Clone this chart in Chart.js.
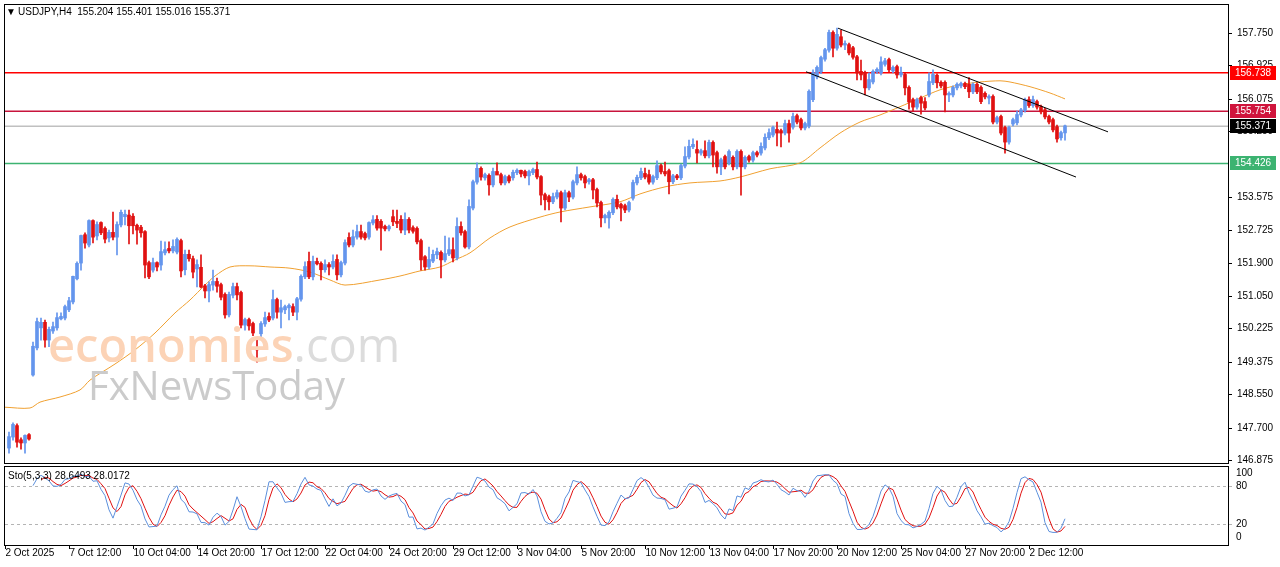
<!DOCTYPE html><html><head><meta charset="utf-8">
<script src="https://cdn.jsdelivr.net/npm/chart.js@4"></script>
<style>html,body{margin:0;padding:0;background:#fff;overflow:hidden}
#m{position:absolute;left:0;top:0;width:1280px;height:466px}
#s{position:absolute;left:0;top:466px;width:1280px;height:101px}
</style></head><body><div id="m"><canvas id="cm"></canvas></div><div id="s"><canvas id="cs"></canvas></div>
<script>
const openV=[147.18,147.46,147.74,147.38,147.31,147.51,149.04,149.73,150.24,150.37,149.93,150.16,150.24,150.47,150.49,150.70,150.90,151.49,151.89,152.60,152.35,152.96,152.58,152.91,152.76,152.53,152.66,152.55,152.86,153.07,153.10,153.07,152.84,152.79,152.68,151.89,151.71,151.89,151.84,152.15,152.25,152.20,152.17,152.45,151.72,152.10,151.99,151.74,151.77,151.30,151.18,151.33,151.41,151.33,151.08,150.57,151.07,151.28,151.13,150.31,150.44,150.34,149.70,150.09,150.34,150.52,150.49,150.95,150.64,150.70,150.75,150.77,150.64,150.97,151.54,151.92,151.54,151.92,151.87,151.72,151.84,151.79,151.97,151.59,151.89,152.53,152.35,152.55,152.68,152.63,152.55,152.91,152.99,152.94,152.81,152.76,153.06,152.94,152.99,152.73,152.99,152.78,152.76,152.45,152.04,151.79,151.94,152.10,152.15,151.97,152.12,152.22,152.02,152.81,152.68,152.30,153.29,153.95,154.29,154.06,154.11,153.88,154.21,154.13,153.93,154.08,154.06,154.19,154.24,154.21,154.11,154.19,154.26,154.08,153.62,153.57,153.45,153.57,153.67,153.29,153.67,153.57,153.93,154.13,154.08,153.96,154.00,153.75,153.42,153.04,153.04,153.17,153.50,153.37,153.34,153.24,153.54,153.93,154.06,154.16,154.13,153.95,154.06,154.36,154.21,154.23,153.96,154.10,154.06,154.36,154.59,154.85,154.77,154.69,154.74,154.62,154.95,154.69,154.34,154.59,154.44,154.57,154.34,154.72,154.34,154.59,154.51,154.69,154.69,154.82,155.08,155.15,155.28,155.25,155.20,155.43,155.35,155.63,155.53,155.33,155.38,156.05,156.63,156.76,157.08,157.31,157.75,157.36,157.64,157.44,157.44,157.36,157.13,156.76,156.73,156.35,156.50,156.76,156.73,156.95,157.06,156.78,156.88,156.68,156.68,156.35,156.04,155.86,156.09,155.99,156.17,156.48,156.66,156.48,156.48,156.17,156.17,156.35,156.40,156.45,156.43,156.25,156.43,156.35,156.20,156.09,156.12,155.48,155.61,155.33,154.97,155.43,155.46,155.66,155.78,156.04,155.90,155.99,155.86,155.78,155.61,155.53,155.35,155.08,155.204];
const highV=[147.59,147.82,147.80,147.44,147.52,147.55,149.88,150.49,150.49,150.44,150.26,150.39,150.62,150.62,150.82,151.02,151.56,151.92,152.60,152.66,152.99,152.99,152.94,152.94,152.81,152.73,153.19,152.94,153.24,153.24,153.24,153.15,152.88,152.85,152.72,151.94,152.02,151.92,152.45,152.43,152.43,152.48,152.53,152.50,152.22,152.22,152.07,151.97,152.10,151.35,151.41,151.71,151.51,151.38,151.13,151.15,151.38,151.38,151.18,150.49,150.49,150.39,149.95,150.40,150.64,150.62,151.20,151.00,150.95,150.82,150.85,150.85,151.02,151.59,151.92,152.17,152.07,152.02,151.92,151.97,151.90,152.10,152.10,151.94,152.48,152.66,152.73,152.86,152.86,152.68,152.94,153.10,153.10,153.00,152.86,152.86,153.24,153.24,153.10,153.17,153.05,152.84,152.81,152.50,152.08,152.30,152.22,152.27,152.20,152.58,152.53,152.53,153.04,152.94,152.73,153.50,154.00,154.44,154.34,154.18,154.16,154.31,154.44,154.18,154.13,154.13,154.26,154.29,154.26,154.26,154.26,154.31,154.46,154.12,153.67,153.62,153.67,153.75,153.72,153.75,153.72,154.00,154.34,154.18,154.13,154.05,154.05,153.80,153.47,153.14,153.22,153.55,153.62,153.42,153.39,153.47,154.00,154.13,154.31,154.31,154.26,154.13,154.49,154.41,154.46,154.28,154.15,154.15,154.41,154.85,155.02,155.05,155.00,154.79,155.00,155.02,155.00,154.74,154.56,154.64,154.77,154.62,154.77,154.77,154.62,154.64,154.74,154.74,154.95,155.18,155.31,155.38,155.48,155.30,155.53,155.53,155.71,155.68,155.58,155.48,156.30,156.81,156.91,157.16,157.36,157.82,157.80,157.87,157.82,157.55,157.49,157.41,157.18,157.06,156.78,156.73,156.81,156.86,157.14,157.10,157.11,156.91,156.93,156.88,156.73,156.40,156.09,156.09,156.14,156.10,156.73,156.81,156.71,156.53,156.53,156.25,156.40,156.48,156.50,156.50,156.61,156.48,156.48,156.40,156.25,156.17,156.17,155.63,155.66,155.38,155.38,155.58,155.76,155.83,156.09,156.12,156.14,156.04,155.91,155.83,155.66,155.58,155.40,155.25,155.401];
const lowV=[147.05,147.38,147.20,147.15,147.05,147.38,149.01,149.68,149.93,149.75,149.76,150.10,150.18,150.44,150.44,150.65,150.85,151.46,151.71,152.27,152.30,152.40,152.48,152.61,152.40,152.43,152.48,152.10,152.81,152.86,152.38,152.63,152.37,152.55,151.51,151.49,151.66,151.69,151.71,152.10,152.15,152.15,152.12,151.54,151.59,151.94,151.51,151.28,151.26,151.00,150.90,151.20,151.15,150.95,150.49,150.52,151.00,150.95,150.24,150.18,150.18,150.04,149.37,149.96,150.28,150.40,150.44,150.49,150.24,150.60,150.44,150.55,150.44,150.92,151.49,151.49,151.46,151.84,151.46,151.66,151.59,151.74,151.46,151.54,151.84,152.30,152.30,152.50,152.50,152.48,152.50,152.86,152.73,152.22,152.71,152.71,152.84,152.79,152.66,152.61,152.66,152.65,152.38,151.71,151.71,151.74,151.90,152.00,151.51,151.92,152.08,151.92,151.97,152.60,152.27,152.25,153.24,153.90,154.00,154.00,153.62,153.83,154.16,153.88,153.88,153.93,154.00,154.14,154.08,154.06,153.88,154.14,154.03,153.37,153.24,153.24,153.40,153.52,152.94,153.24,153.45,153.52,153.88,154.00,153.80,153.90,153.52,153.32,152.81,152.91,152.78,153.12,153.27,152.96,153.17,153.19,153.49,153.88,154.01,154.03,153.90,153.90,154.01,154.16,154.11,153.65,153.91,154.01,154.01,154.31,154.54,154.80,154.44,154.64,154.57,154.57,154.34,154.18,154.14,154.29,154.39,154.26,154.29,153.62,154.29,154.46,154.46,154.59,154.64,154.77,155.03,155.10,154.87,154.85,155.15,154.97,155.30,155.43,155.28,155.28,155.33,156.00,156.58,156.71,157.03,157.26,157.14,157.31,157.39,157.32,157.19,157.08,156.55,156.55,156.17,156.30,156.45,156.71,156.68,156.90,156.76,156.73,156.60,156.63,156.17,155.81,155.76,155.81,155.68,155.79,156.12,156.43,156.35,156.35,155.74,156.00,156.12,156.30,156.35,156.33,156.10,156.20,156.20,155.95,156.07,155.94,155.43,155.43,155.15,154.69,154.92,155.38,155.41,155.61,155.73,155.85,155.85,155.81,155.69,155.56,155.43,155.23,154.97,155.02,155.016];
const closeV=[147.46,147.77,147.33,147.31,147.49,147.41,149.76,150.39,150.37,149.93,150.19,150.26,150.49,150.52,150.77,150.92,151.54,151.87,152.58,152.40,152.96,152.55,152.86,152.66,152.50,152.66,152.55,152.86,153.17,153.12,152.84,152.84,152.73,152.66,151.84,151.54,151.89,151.79,152.17,152.22,152.20,152.30,152.48,151.69,152.10,152.00,151.66,151.84,151.28,151.18,151.33,151.41,151.30,151.02,150.57,151.08,151.28,151.08,150.31,150.44,150.29,150.11,149.68,150.34,150.49,150.44,150.95,150.64,150.74,150.77,150.80,150.64,150.97,151.54,151.79,151.54,151.92,151.87,151.72,151.84,151.79,151.92,151.59,151.89,152.40,152.35,152.55,152.68,152.55,152.53,152.91,152.98,152.78,152.78,152.76,152.81,152.94,152.90,152.73,152.99,152.73,152.70,152.43,151.97,151.79,151.97,152.10,152.17,151.97,152.12,152.22,152.02,152.81,152.66,152.30,153.32,153.95,154.29,154.08,154.13,153.88,154.21,154.13,153.93,154.08,153.98,154.19,154.24,154.16,154.11,154.21,154.26,154.08,153.62,153.50,153.45,153.57,153.67,153.29,153.67,153.57,153.95,154.13,154.06,153.93,154.00,153.75,153.42,153.04,153.09,153.17,153.50,153.32,153.29,153.24,153.42,153.93,154.06,154.21,154.08,153.95,154.08,154.36,154.21,154.16,153.96,154.10,154.06,154.36,154.59,154.85,154.90,154.69,154.74,154.62,154.95,154.64,154.34,154.51,154.34,154.72,154.34,154.72,154.34,154.57,154.51,154.69,154.64,154.85,155.08,155.20,155.33,155.20,155.20,155.43,155.20,155.61,155.48,155.33,155.43,156.25,156.73,156.86,157.11,157.31,157.75,157.36,157.70,157.44,157.47,157.24,157.13,156.73,156.68,156.35,156.55,156.76,156.81,157.00,157.03,156.81,156.86,156.68,156.73,156.35,155.99,155.86,156.04,155.96,155.84,156.50,156.68,156.48,156.40,156.17,156.20,156.35,156.43,156.45,156.38,156.25,156.43,156.25,156.00,156.12,156.12,155.48,155.58,155.20,154.97,155.33,155.53,155.66,155.78,156.04,155.90,156.04,155.86,155.74,155.61,155.48,155.28,155.05,155.20,155.371];
// moving average (bar index, value)
const maIdx=[-1,5.25,7.75,12.75,17.75,20.25,26.5,31.5,36.5,41.5,45.25,49,51.5,55.25,60.25,65.25,70.25,75.25,80.25,84,92.75,97.75,102.75,107.75,111.5,115.25,120.25,125.25,132.75,137.75,145.25,152.75,157.75,164,170.25,177.75,182.75,190.25,197.75,202.75,207.75,212.75,217.75,222.75,227.75,232.75,237.75,242.75,247.75,250.25,255.25,260.25,264];
const maVal=[148.22,148.20,148.35,148.48,148.66,148.91,149.32,149.68,150.11,150.62,150.95,151.33,151.56,151.79,151.82,151.79,151.76,151.66,151.46,151.33,151.46,151.56,151.69,151.79,151.97,152.15,152.53,152.81,153.06,153.19,153.32,153.45,153.65,153.83,153.93,153.98,154.08,154.29,154.44,154.82,155.20,155.48,155.66,155.87,156.09,156.30,156.43,156.50,156.53,156.50,156.38,156.22,156.07];
const chanUpper=[[207.25,157.87],[274.75,155.23]];
const chanLower=[[199.25,156.76],[266.75,154.08]];
const levelVals=[156.738,155.754,155.371,154.426];
const levelColors=['#ff0000','#c8143c','#c0c0c0','#3cb371'];
const levelBox=['#ff0000','#d0143c','#000000','#3cb371'];
const priceTicks=[157.750,156.925,156.075,155.250,153.575,152.725,151.900,151.050,150.225,149.375,148.550,147.700,146.875];
const xTickLabels=['2 Oct 2025','7 Oct 12:00','10 Oct 04:00','14 Oct 20:00','17 Oct 12:00','22 Oct 04:00','24 Oct 20:00','29 Oct 12:00','3 Nov 04:00','5 Nov 20:00','10 Nov 12:00','13 Nov 04:00','17 Nov 20:00','20 Nov 12:00','25 Nov 04:00','27 Nov 20:00','2 Dec 12:00'];
const xTickIdx=[-1,15,31,47,63,79,95,111,127,143,159,175,191,207,223,239,255];
const stoTicks=[100,80,20,0];
const UP='#6495ed',DN='#e01010';
const F="'Liberation Sans', Arial, sans-serif";
const n=closeV.length;
const cols=closeV.map((c,i)=>c>=openV[i]?UP:DN);
// stochastic 5,3,3 computed from the candles
const num=[],den=[],K=[],D=[];
for(let i=0;i<n;i++){ if(i>=4){let ll=Infinity,hh=-Infinity;for(let j=i-4;j<=i;j++){ll=Math.min(ll,lowV[j]);hh=Math.max(hh,highV[j]);}num[i]=closeV[i]-ll;den[i]=hh-ll;}
 if(i>=6){const a=num[i]+num[i-1]+num[i-2],b=den[i]+den[i-1]+den[i-2];K[i]=b?a/b*100:50;}else K[i]=null;
 D[i]=(i>=8)?(K[i]+K[i-1]+K[i-2])/3:null;}
Chart.defaults.font.family=F;
const xs={type:'linear',min:-1,max:304.75,display:false,offset:false,grid:{offset:false}};
const mainDeco={id:'mainDeco',
 afterDatasetsDraw(c){const x=c.ctx;x.save();x.font="600 47px 'Open Sans'";x.textBaseline='alphabetic';
  x.fillStyle='#fcd3b6';x.fillText('economies',48,362);const w=x.measureText('economies').width;x.fillStyle='#dcdcdc';x.font="47px 'Open Sans'";x.fillText('.com',48+w,362);
  x.font="500 40px 'Open Sans'";x.fillStyle='#cbcbcb';x.fillText('FxNewsToday',88,400);x.restore();},
 afterDraw(c){const x=c.ctx,a=c.chartArea,y=c.scales.y;x.save();
  x.strokeStyle='#000';x.lineWidth=1;x.strokeRect(a.left-0.5,a.top-0.5,a.right-a.left+1,a.bottom-a.top+1);
  x.font='10px '+F;x.fillStyle='#000';x.textBaseline='middle';x.textAlign='left';
  priceTicks.forEach(v=>{const p=Math.round(y.getPixelForValue(v))+0.5;x.beginPath();x.moveTo(a.right,p);x.lineTo(a.right+4,p);x.stroke();x.fillText(v.toFixed(3),a.right+9,p);});
  levelVals.forEach((v,k)=>{const p=Math.round(y.getPixelForValue(v));x.fillStyle=levelBox[k];x.fillRect(a.right+2,p-7,46,14);x.fillStyle='#fff';x.fillText(v.toFixed(3),a.right+7,p);});
  x.fillStyle='#000';x.font='10px '+F;x.fillText('\u25BC',6,12);x.fillText('USDJPY,H4  155.204 155.401 155.016 155.371',18,12);
  x.restore();}};
const levelSets=levelVals.map((v,k)=>({type:'line',data:[{x:-1,y:v},{x:304.75,y:v}],borderColor:levelColors[k],borderWidth:1.5,pointRadius:0,order:5}));
new Chart(document.getElementById('cm'),{type:'bar',
 data:{datasets:[...levelSets,
  {type:'line',data:maIdx.map((v,i)=>({x:v,y:maVal[i]})),borderColor:'#f0a030',borderWidth:1,pointRadius:0,tension:0.3,order:3},
  {data:lowV.map((v,i)=>({x:i,y:[v,highV[i]]})),backgroundColor:cols,barThickness:1,grouped:false,order:2},
  {data:openV.map((v,i)=>({x:i,y:[Math.min(v,closeV[i]),Math.max(v,closeV[i])+0.012]})),backgroundColor:cols,barThickness:3,grouped:false,order:1},
  {type:'line',data:chanUpper.map(p=>({x:p[0],y:p[1]})),borderColor:'#000',borderWidth:1,pointRadius:0,order:0},
  {type:'line',data:chanLower.map(p=>({x:p[0],y:p[1]})),borderColor:'#000',borderWidth:1,pointRadius:0,order:0}]},
 options:{responsive:true,maintainAspectRatio:false,animation:false,devicePixelRatio:1,
  layout:{padding:{left:5,right:52,top:5,bottom:3}},
  plugins:{legend:{display:false},tooltip:{enabled:false}},
  scales:{x:xs,y:{min:146.80,max:158.46,display:false}}},plugins:[mainDeco]});
const stoDeco={id:'stoDeco',
 beforeDatasetsDraw(c){const x=c.ctx,a=c.chartArea,y=c.scales.y;x.save();x.strokeStyle='#b4b4b4';x.setLineDash([3,3]);
  [80,20].forEach(v=>{const p=Math.round(y.getPixelForValue(v))+0.5;x.beginPath();x.moveTo(a.left,p);x.lineTo(a.right+4,p);x.stroke();});x.restore();},
 afterDraw(c){const x=c.ctx,a=c.chartArea,y=c.scales.y,xx=c.scales.x;x.save();x.strokeStyle='#000';x.lineWidth=1;
  x.strokeRect(a.left-0.5,a.top-0.5,a.right-a.left+1,a.bottom-a.top+1);
  x.font='10px '+F;x.fillStyle='#000';x.textBaseline='middle';
  stoTicks.forEach(v=>{x.fillText(String(v),a.right+8,y.getPixelForValue(v));});
  x.fillText('Sto(5,3,3) 28.6493 28.0172',8,10);
  xTickLabels.forEach((t,k)=>{const p=Math.round(xx.getPixelForValue(xTickIdx[k]))+0.5;x.beginPath();x.moveTo(p,a.bottom);x.lineTo(p,a.bottom+4);x.stroke();x.fillText(t,p,87);});
  x.restore();}};
new Chart(document.getElementById('cs'),{type:'line',
 data:{datasets:[
  {data:K.map((v,i)=>({x:i,y:v})),borderColor:'#5b8fdc',borderWidth:1,pointRadius:0},
  {data:D.map((v,i)=>({x:i,y:v})),borderColor:'#e01010',borderWidth:1,pointRadius:0}]},
 options:{responsive:true,maintainAspectRatio:false,animation:false,devicePixelRatio:1,
  layout:{padding:{left:5,right:52,top:1,bottom:22}},
  plugins:{legend:{display:false},tooltip:{enabled:false}},
  scales:{x:xs,y:{min:-12.5,max:109.4,display:false}}},plugins:[stoDeco]});
</script></body></html>
